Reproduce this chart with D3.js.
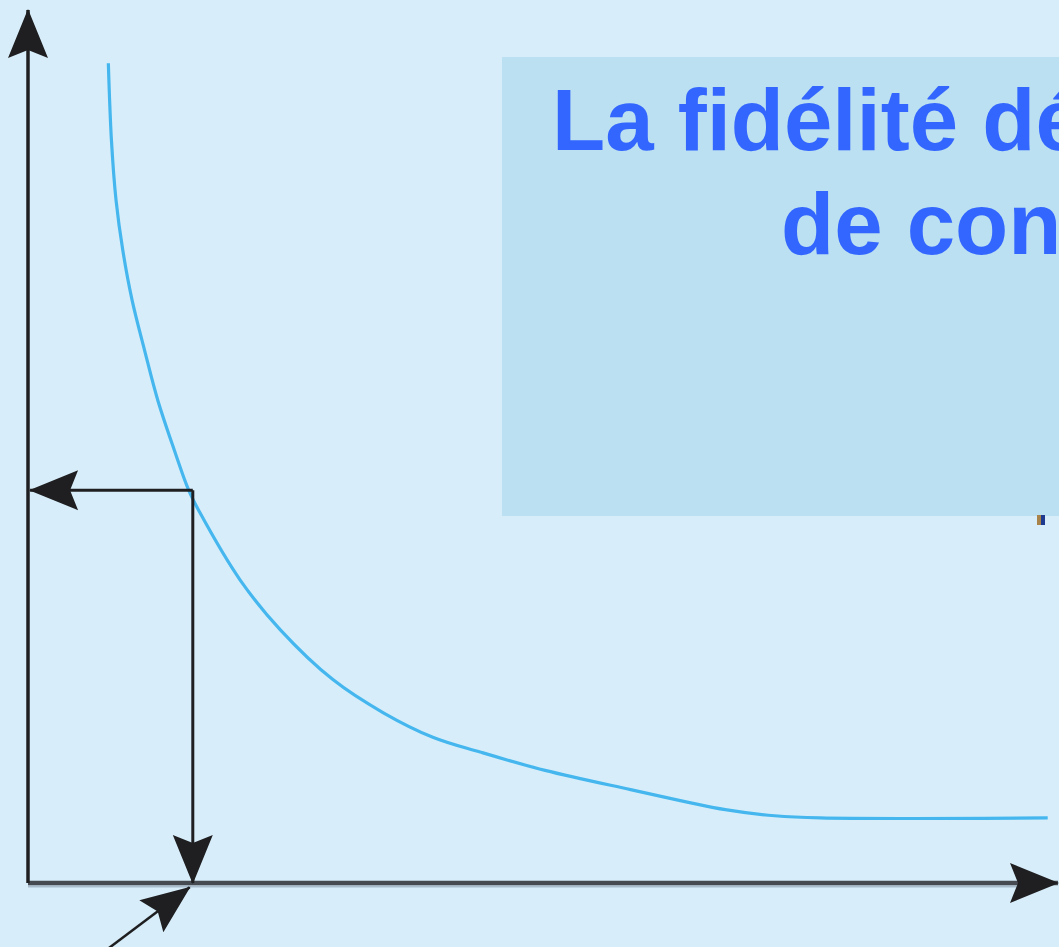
<!DOCTYPE html>
<html>
<head>
<meta charset="utf-8">
<script src="https://cdn.jsdelivr.net/npm/d3@7"></script>
<style>
  html, body { margin: 0; padding: 0; background: #d7eefa; overflow: hidden; }
</style>
</head>
<body>
<div id="chart"></div>
<script>
// curve values (axis units 0..100)
const curveX = [7.8, 8.1, 8.55, 9.2, 10.1, 11.3, 12.6, 14.2, 15.6, 16.7, 20.6, 24.5, 29.6, 34.5, 39.3, 43.9, 50.2, 58.5, 67.7, 72.5, 76.9, 99.0];
const curveY = [93.9, 85.1, 78.2, 72.5, 66.8, 61.1, 55.3, 49.6, 45.0, 42.4, 34.7, 29.0, 23.3, 19.5, 16.7, 15.0, 12.9, 10.7, 8.4, 7.7, 7.45, 7.45];

// the read-off point and the pointer arrow
const readPoint = [16.0, 45.0];
const pointerFrom = [7.8, -7.5];
const pointerTo = [15.7, -0.5];

// title lines
const titleLines = ["La fidélité décroît", "de concentration"];

main();

function main () {
  /*********************** 1. basic settings ******************/
  const width = 1059,
    height = 947;

  const svg = d3
    .select("#chart")
    .append("svg")
    .attr("width", width)
    .attr("height", height);

  svg.append("rect")
    .attr("width", width)
    .attr("height", height)
    .attr("fill", "#d7eefa");

  // scales
  const scaleX = d3.scaleLinear().domain([0, 100]).range([28, 1058]);
  const scaleY = d3.scaleLinear().domain([0, 100]).range([883, 10]);

  // arrow head marker
  const defs = svg.append("defs");
  defs.append("marker")
    .attr("id", "head")
    .attr("viewBox", "-52 -22 54 44")
    .attr("markerUnits", "userSpaceOnUse")
    .attr("markerWidth", 54)
    .attr("markerHeight", 44)
    .attr("refX", 0)
    .attr("refY", 0)
    .attr("orient", "auto")
    .append("path")
    .attr("d", "M1,0 L-48,-20 L-40,0 L-48,20 Z")
    .attr("fill", "#1f1f21");

  /******************* 2. title box ********************/
  svg.append("rect")
    .attr("x", 502)
    .attr("y", 57)
    .attr("width", width - 502)
    .attr("height", 516 - 57)
    .attr("fill", "#bbe0f1");

  svg.append("g")
    .selectAll("text")
    .data(titleLines)
    .join("text")
    .attr("x", (d, i) => (i === 0 ? 552 : 781))
    .attr("y", (d, i) => 150 + i * 104)
    .attr("font-family", "Liberation Sans, Arial, sans-serif")
    .attr("font-weight", "bold")
    .attr("font-size", "87px")
    .attr("fill", "#3366ff")
    .text((d) => d);

  // small mark under the box
  svg.append("rect")
    .attr("x", 1037).attr("y", 515).attr("width", 4).attr("height", 10)
    .attr("fill", "#a8844a");
  svg.append("rect")
    .attr("x", 1041).attr("y", 515).attr("width", 4).attr("height", 10)
    .attr("fill", "#1d3a8f");

  /******************* 3. axes ********************/
  const line = (a, b) => `M${scaleX(a[0])},${scaleY(a[1])}L${scaleX(b[0])},${scaleY(b[1])}`;

  svg.append("path")
    .attr("d", line([0, 0], [96, 0]))
    .attr("transform", "translate(0, 3.5)")
    .attr("stroke", "#a9bccb")
    .attr("stroke-width", 2);
  svg.append("path")
    .attr("d", line([0, 0], [100, 0]))
    .attr("stroke", "#464b51")
    .attr("stroke-width", 4.5)
    .attr("marker-end", "url(#head)");
  svg.append("path")
    .attr("d", line([0, 0], [0, 100]))
    .attr("stroke", "#1f1f21")
    .attr("stroke-width", 3.5)
    .attr("marker-end", "url(#head)");

  /******************* 4. curve ********************/
  const curveData = curveX.map((x, i) => [x, curveY[i]]);
  svg.append("path")
    .datum(curveData)
    .attr("fill", "none")
    .attr("stroke", "#45b7ee")
    .attr("stroke-width", 3.2)
    .attr("d", d3.line()
      .x((d) => scaleX(d[0]))
      .y((d) => scaleY(d[1]))
      .curve(d3.curveCatmullRom.alpha(0.5)));

  /******************* 5. reading arrows ********************/
  svg.append("path")
    .attr("d", line(readPoint, [0.2, readPoint[1]]))
    .attr("stroke", "#1f1f21")
    .attr("stroke-width", 3)
    .attr("marker-end", "url(#head)");
  svg.append("path")
    .attr("d", line(readPoint, [readPoint[0], 0]))
    .attr("stroke", "#1f1f21")
    .attr("stroke-width", 3)
    .attr("marker-end", "url(#head)");
  svg.append("path")
    .attr("d", line(pointerFrom, pointerTo))
    .attr("stroke", "#1f1f21")
    .attr("stroke-width", 2.5)
    .attr("marker-end", "url(#head)");
}
</script>
</body>
</html>
